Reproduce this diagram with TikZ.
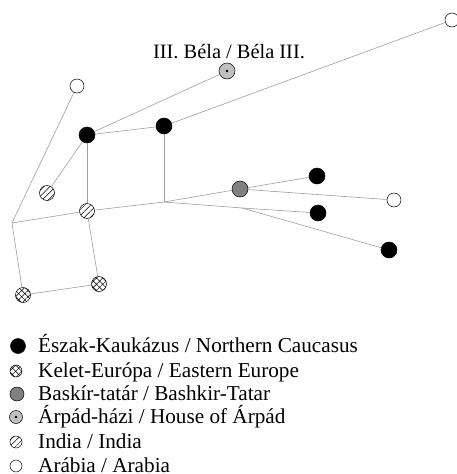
\documentclass[tikz,border=0pt]{standalone}
\usepackage{fontspec}
\setmainfont{Liberation Serif}
\usetikzlibrary{patterns.meta}

\tikzset{
  tie/.style={draw=black!38, line width=0.6pt},
  dot/.style={circle, draw=black, line width=0.5pt, inner sep=0pt, minimum size=#1},
  dot/.default=15pt,
  caucasus/.style={dot=16pt, fill=black},
  eeurope/.style={dot=15pt, preaction={fill=white},
    pattern={Hatch[angle=45,distance=4.4pt,line width=0.5pt]}},
  bashkir/.style={dot=16pt, fill=black!50},
  arpad/.style={dot=16pt, fill=black!25,
    path picture={\fill[black] (path picture bounding box.center) circle (1.3pt);}},
  india/.style={dot=15pt, preaction={fill=white},
    pattern={Lines[angle=45,distance=4.2pt,line width=0.5pt]}},
  arabia/.style={dot=14pt, fill=white},
  legtext/.style={anchor=base west, inner sep=0pt, font=\fontsize{21.2}{24}\selectfont}
}

\begin{document}
\begin{tikzpicture}[x=1pt, y=-1pt, font=\fontsize{20.4}{24}\selectfont]
  \useasboundingbox (0,0) rectangle (456,474);

  % branch points
  \coordinate (j0) at (12,223);
  \coordinate (j1) at (164,202);
  \coordinate (j2) at (242,208);

  % samples
  \node[caucasus] (c1) at (87,135) {};
  \node[caucasus] (c2) at (164,126) {};
  \node[caucasus] (c3) at (317,176) {};
  \node[caucasus] (c4) at (318,213) {};
  \node[caucasus] (c5) at (389,250) {};
  \node[arabia] (w1) at (77,86) {};
  \node[arabia] (w2) at (452,20) {};
  \node[arabia] (w3) at (394,200) {};
  \node[india] (in1) at (47,193) {};
  \node[india] (in2) at (87,211) {};
  \node[eeurope] (eu1) at (23,295) {};
  \node[eeurope] (eu2) at (99,284) {};
  \node[bashkir] (bt) at (240,189) {};
  \node[arpad] (bela) at (227,71) {};
  \node[anchor=base, inner sep=0pt] (belalabel) at (229,58) {III. Béla / Béla III.};

  % tree
  \draw[tie] (j0) -- (w1);
  \draw[tie] (j0) -- (in2);
  \draw[tie] (j0) -- (eu1);
  \draw[tie] (eu1) -- (eu2);
  \draw[tie] (eu2) -- (in2);
  \draw[tie] (in2) -- (c1);
  \draw[tie] (c1) -- (in1);
  \draw[tie] (c1) -- (bela);
  \draw[tie] (c1) -- (c2);
  \draw[tie] (c2) -- (w2);
  \draw[tie] (c2) -- (j1);
  \draw[tie] (in2) -- (j1);
  \draw[tie] (j1) -- (bt);
  \draw[tie] (bt) -- (c3);
  \draw[tie] (bt) -- (w3);
  \draw[tie] (j1) -- (j2) -- (c4);
  \draw[tie] (j2) -- (c5);

  % legend
  \node[caucasus, dot=15pt] (k1) at (18,346) {};
  \node[eeurope, dot=12pt] (k2) at (16,371) {};
  \node[bashkir, dot=14pt] (k3) at (17,394) {};
  \node[arpad, dot=13pt] (k4) at (16,417) {};
  \node[india, dot=12pt] (k5) at (16,442) {};
  \node[arabia, dot=12pt] (k6) at (16,466) {};
  \node[legtext] (t1) at (38,352) {Észak-Kaukázus / Northern Caucasus};
  \node[legtext] (t2) at (38,377) {Kelet-Európa / Eastern Europe};
  \node[legtext] (t3) at (38,400) {Baskír-tatár / Bashkir-Tatar};
  \node[legtext] (t4) at (38,423) {Árpád-házi / House of Árpád};
  \node[legtext] (t5) at (38,448) {India / India};
  \node[legtext] (t6) at (38,472) {Arábia / Arabia};
\end{tikzpicture}
\end{document}
